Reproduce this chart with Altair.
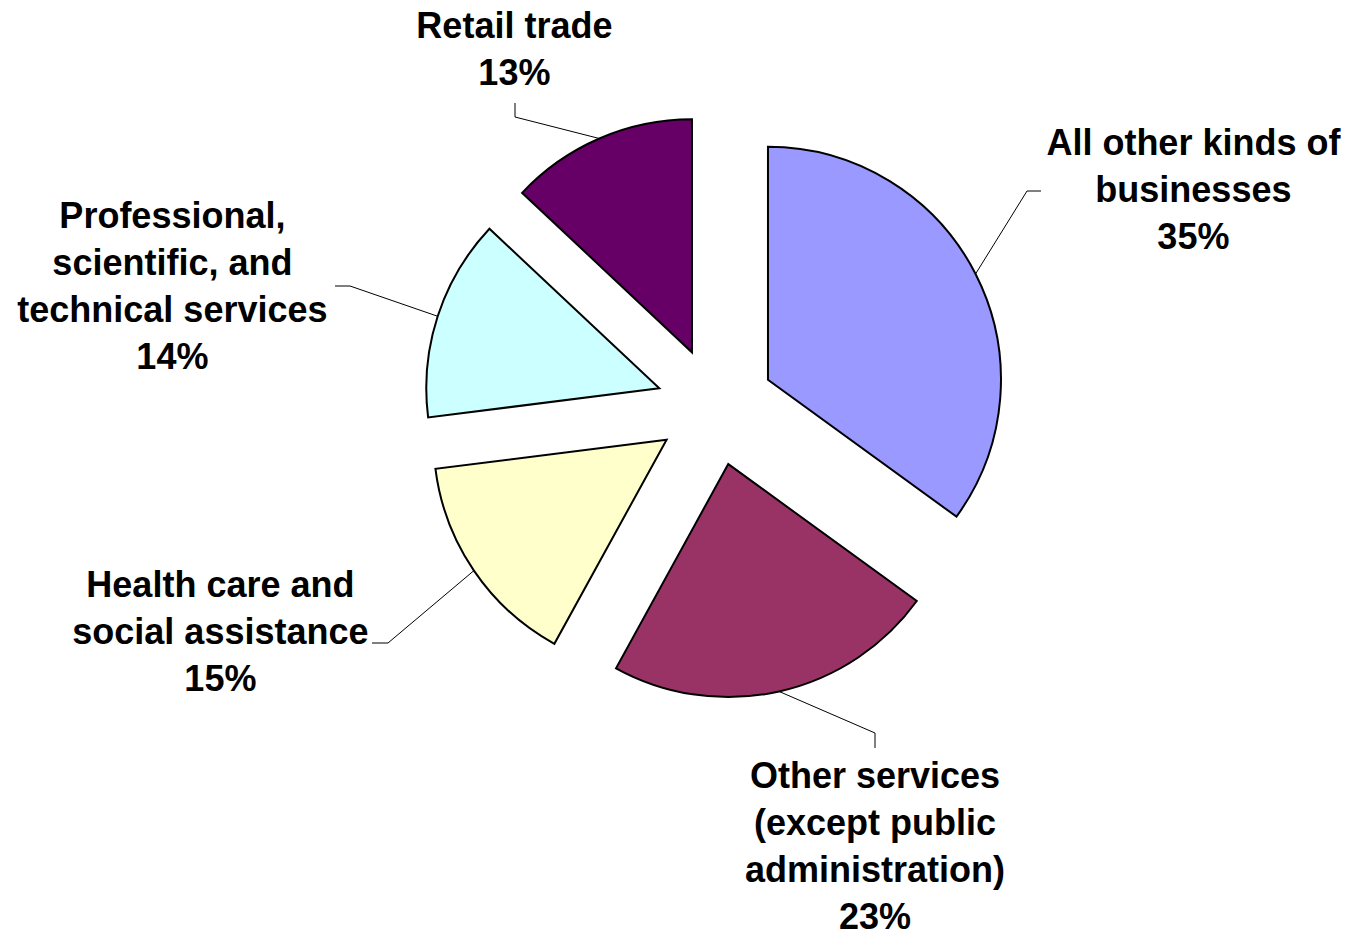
import math
import altair as alt
import pandas as pd

# ---- data ----
categories = [
    "All other kinds of businesses",
    "Other services (except public administration)",
    "Health care and social assistance",
    "Professional, scientific, and technical services",
    "Retail trade",
]
shares = [35, 23, 15, 14, 13]
label_text = [
    "All other kinds of\nbusinesses",
    "Other services\n(except public\nadministration)",
    "Health care and\nsocial assistance",
    "Professional,\nscientific, and\ntechnical services",
    "Retail trade",
]
colors = ["#9999FF", "#993366", "#FFFFCC", "#CCFFFF", "#660066"]

# ---- layout (pixels, relative to the pie centre) ----
CX, CY = 707.4, 398.5
RADIUS = 233
EXPLODE = 59
label_dx = [478, 159.6, -495, -543, -201]
label_dy = [-251.5, 381.5, 190.5, -178.5, -368.5]
lead_end_dx = [325.6, 159.6, -343.4, -380.4, -200.4]
lead_end_dy = [-215.5, 341.5, 236.5, -120.5, -303.5]
lead_kink_dx = [311.6, 159.6, -327.4, -365.4, -200.4]
lead_kink_dy = [-215.5, 326.5, 236.5, -120.5, -289.5]

df = pd.DataFrame({
    "category": categories,
    "share": shares,
    "label": label_text,
    "order": list(range(len(categories))),
    "ldx": label_dx, "ldy": label_dy,
    "edx": lead_end_dx, "edy": lead_end_dy,
    "kdx": lead_kink_dx, "kdy": lead_kink_dy,
})

base = (
    alt.Chart(df)
    .transform_joinaggregate(total="sum(share)")
    .transform_window(cum="sum(share)", sort=[alt.SortField("order")], frame=[None, 0])
    .transform_calculate(start="(datum.cum - datum.share) / datum.total * 100",
                         end="datum.cum / datum.total * 100")
    .transform_calculate(mid="(datum.start + datum.end) / 2 * 2 * PI / 100")
    .transform_calculate(cx=f"{CX} + {EXPLODE} * sin(datum.mid)",
                         cy=f"{CY} - {EXPLODE} * cos(datum.mid)")
)

arcs = base.mark_arc(radius=RADIUS, stroke="black", strokeWidth=2).encode(
    theta=alt.Theta("start:Q", scale=alt.Scale(domain=[0, 100], range=[0, 2 * math.pi]), stack=None),
    theta2="end:Q",
    x=alt.X("cx:Q", scale=None),
    y=alt.Y("cy:Q", scale=None),
    color=alt.Color("category:N", scale=alt.Scale(domain=categories, range=colors), legend=None),
)

seg1 = base.transform_calculate(
    ax=f"{CX} + datum.edx", ay=f"{CY} + datum.edy",
    kx=f"{CX} + datum.kdx", ky=f"{CY} + datum.kdy",
).mark_rule(color="black", strokeWidth=1).encode(
    x=alt.X("ax:Q", scale=None), y=alt.Y("ay:Q", scale=None), x2="kx:Q", y2="ky:Q"
)

seg2 = base.transform_calculate(
    kx=f"{CX} + datum.kdx", ky=f"{CY} + datum.kdy",
    px=f"datum.cx + {RADIUS} * sin(datum.mid)", py=f"datum.cy - {RADIUS} * cos(datum.mid)",
).mark_rule(color="black", strokeWidth=1).encode(
    x=alt.X("kx:Q", scale=None), y=alt.Y("ky:Q", scale=None), x2="px:Q", y2="py:Q"
)

text = base.transform_calculate(
    tx=f"{CX} + datum.ldx", ty=f"{CY} + datum.ldy",
    txt="datum.label + '\\n' + datum.share + '%'",
).mark_text(
    font="Liberation Sans", fontSize=36, fontWeight="bold", align="center",
    baseline="alphabetic", lineBreak="\n", lineHeight=47, color="black",
).encode(
    x=alt.X("tx:Q", scale=None), y=alt.Y("ty:Q", scale=None), text="txt:N"
)

chart = (
    alt.layer(arcs, seg1, seg2, text)
    .properties(width=1333, height=922, padding=0, autosize="none", background="white")
    .configure_view(stroke=None)
)

chart.save("out.html", embed_options={"renderer": "svg", "actions": False})
